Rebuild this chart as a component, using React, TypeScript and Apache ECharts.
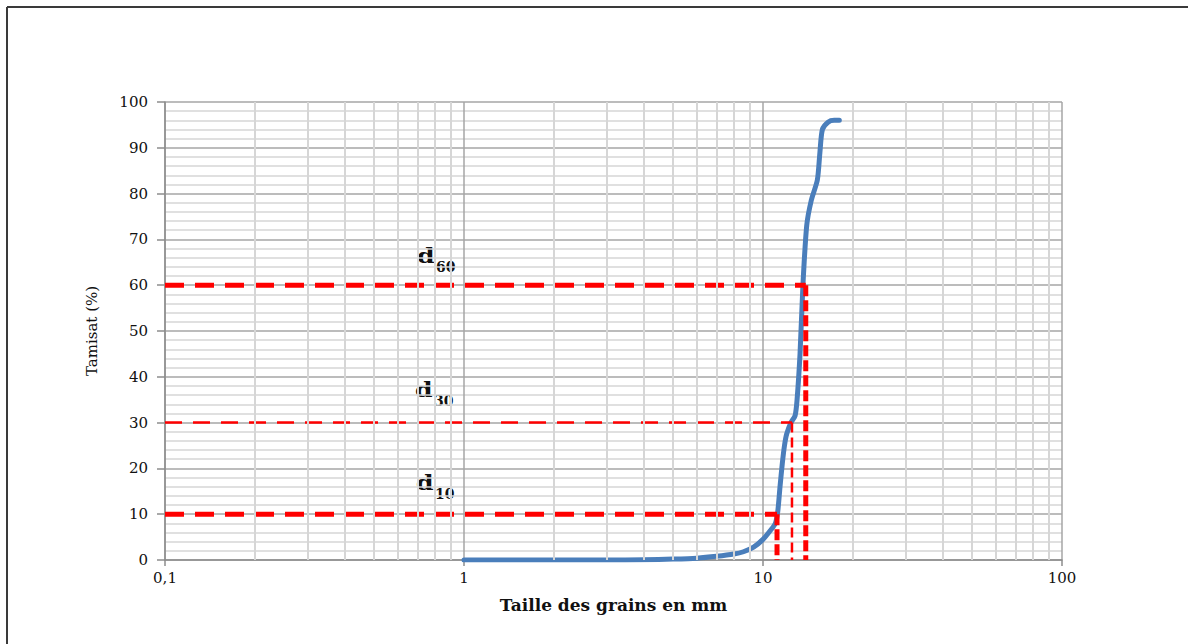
import React, { useEffect, useRef } from "react";
import * as echarts from "echarts";

// Grain-size distribution: sieve opening (mm) vs cumulative passing (%)
const SIZES_MM = [1, 2, 3, 4, 5, 6, 7, 8, 8.6, 9.3, 10, 10.6, 11, 11.2, 11.4, 11.6, 11.8, 12.0, 12.4, 12.8, 13.0, 13.3, 13.6, 14.0, 14.5, 15.2, 15.5, 15.8, 16.5, 17.3, 18];
const PASSING = [0, 0, 0, 0.05, 0.2, 0.4, 0.8, 1.3, 1.8, 2.8, 4.5, 6.5, 8, 10.5, 16, 21, 25, 27.5, 30, 31.5, 35, 45, 60, 73, 78.5, 83, 89, 94, 95.6, 96, 96];

// Characteristic diameters d10, d30, d60
const D_LABELS = ["10", "30", "60"];
const D_LEVELS = [10, 30, 60];
const D_DIAMETERS = [11.14, 12.5, 13.9];
const D_THICK = [true, false, true];

// Log-axis decades and intermediate grid values
const X_MIN = 0.1;
const X_MAX = 100;
const MINOR_X = [0.2, 0.3, 0.4, 0.5, 0.6, 0.7, 0.8, 0.9, 2, 3, 4, 5, 6, 7, 8, 9, 20, 30, 40, 50, 60, 70, 80, 90];

const FONT = "DejaVu Serif";

export default function App() {
  const ref = useRef<HTMLDivElement>(null);

  useEffect(() => {
    if (!ref.current) return;
    const chart = echarts.init(ref.current, null, { renderer: "svg" });

    const dashSeries: any[] = [];
    D_LEVELS.forEach((lvl, i) => {
      const d = D_DIAMETERS[i];
      const thick = D_THICK[i];
      dashSeries.push({
        type: "line",
        data: [[X_MIN, lvl], [d, lvl]],
        symbol: "none",
        silent: true,
        z: 4,
        lineStyle: { color: "#ff0000", width: thick ? 5 : 2.5, type: thick ? [19, 11] : [17, 11], cap: "butt" },
      });
      dashSeries.push({
        type: "line",
        data: [[d, lvl], [d, 0]],
        symbol: "none",
        silent: true,
        z: 4,
        lineStyle: { color: "#ff0000", width: thick ? 5 : 2.5, type: thick ? [11, 4] : [10, 5], cap: "butt" },
      });
    });

    // "d" with its subscript, placed just above each dashed level
    const dTexts: any[] = [];
    const labelPos = [
      [416, 472],
      [415, 379],
      [417, 245],
    ];
    D_LABELS.forEach((s, i) => {
      dTexts.push({
        type: "text",
        x: labelPos[i][0],
        y: labelPos[i][1],
        scaleX: 1.2,
        style: { text: "d", font: `bold 21px '${FONT}'`, fill: "#111111", verticalAlign: "top", align: "left" },
      });
      dTexts.push({
        type: "text",
        x: labelPos[i][0] + 19,
        y: labelPos[i][1] + 15,
        style: { text: s, font: `bold 14px '${FONT}'`, fill: "#111111", verticalAlign: "top", align: "left" },
      });
    });

    chart.setOption({
      animation: false,
      backgroundColor: "#ffffff",
      grid: { left: 165, right: 126, top: 102, bottom: 84, containLabel: false },
      xAxis: {
        type: "log",
        logBase: 10,
        min: X_MIN,
        max: X_MAX,
        name: "Taille des grains en mm",
        nameLocation: "middle",
        nameGap: 36,
        nameTextStyle: { fontFamily: FONT, fontWeight: "bold", fontSize: 17, color: "#111111" },
        axisLine: { show: true, onZero: false, lineStyle: { color: "#8c8c8c", width: 1.5 } },
        axisTick: { show: true, length: 6, lineStyle: { color: "#8c8c8c", width: 1.5 } },
        axisLabel: {
          fontFamily: FONT,
          fontSize: 15,
          color: "#111111",
          margin: 10,
          formatter: (v: number) => String(v).replace(".", ","),
        },
        splitLine: { show: true, lineStyle: { color: "#a6a6a6", width: 1.5 } },
      },
      yAxis: {
        type: "value",
        min: 0,
        max: 100,
        interval: 10,
        name: "Tamisat (%)",
        nameLocation: "middle",
        nameGap: 66,
        nameRotate: 90,
        nameTextStyle: { fontFamily: FONT, fontSize: 15, color: "#111111" },
        axisLine: { show: true, lineStyle: { color: "#8c8c8c", width: 1.5 } },
        axisTick: { show: true, length: 8, lineStyle: { color: "#8c8c8c", width: 1.5 } },
        axisLabel: { fontFamily: FONT, fontSize: 15, color: "#111111", margin: 17 },
        splitLine: { show: true, lineStyle: { color: "#a6a6a6", width: 1.5 } },
        minorTick: { show: false, splitNumber: 5 },
        minorSplitLine: { show: true, lineStyle: { color: "#d6d6d6", width: 1.5 } },
      },
      series: [
        {
          type: "line",
          data: [],
          silent: true,
          z: 1,
          markLine: {
            silent: true,
            symbol: "none",
            label: { show: false },
            lineStyle: { color: "#d6d6d6", width: 2, type: "solid" },
            data: MINOR_X.map((v) => ({ xAxis: v })),
          },
        },
        {
          type: "line",
          data: SIZES_MM.map((s, i) => [s, PASSING[i]]),
          symbol: "none",
          smooth: 0.25,
          z: 3,
          lineStyle: { color: "#4a7ebb", width: 5, cap: "round", join: "round" },
        },
        ...dashSeries,
      ],
      graphic: [
        { type: "line", shape: { x1: 7, y1: 7, x2: 1188, y2: 7 }, style: { stroke: "#3a3a3a", lineWidth: 2 } },
        { type: "line", shape: { x1: 7, y1: 7, x2: 7, y2: 644 }, style: { stroke: "#3a3a3a", lineWidth: 2 } },
        ...dTexts,
      ],
    });

    return () => chart.dispose();
  }, []);

  return (
    <div
      ref={ref}
      style={{ position: "fixed", left: 0, top: 0, width: 1188, height: 644, background: "#ffffff" }}
    />
  );
}
